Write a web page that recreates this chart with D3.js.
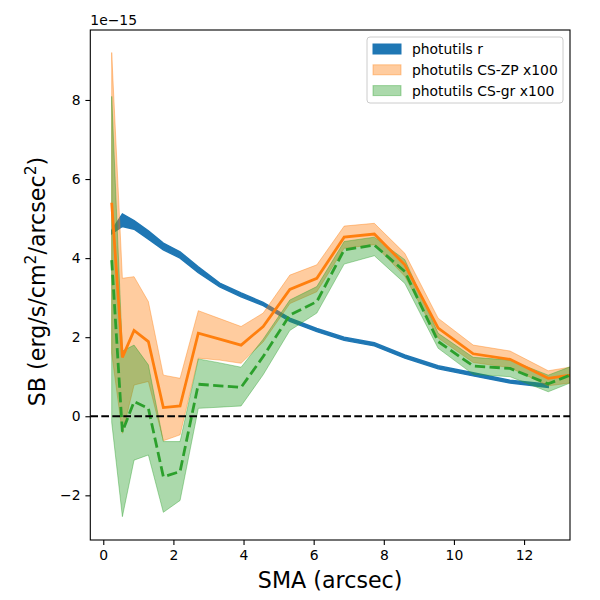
<!DOCTYPE html>
<html>
<head>
<meta charset="utf-8">
<script src="https://cdn.jsdelivr.net/npm/d3@7"></script>
<style>
  body { margin: 0; background: #fff; }
  svg { font-family: "DejaVu Sans", sans-serif; }
</style>
</head>
<body>
<svg id="chart"></svg>
<script>
// SMA 半径 (arcsec)
const sma = [0.24, 0.545, 0.878, 1.286, 1.713, 2.19, 2.71, 3.32, 3.93, 4.56, 5.32, 6.09, 6.87, 7.73, 8.60, 9.55, 10.55, 11.60, 12.69, 13.9];

// photutils r (单位 1e-15)
const blueLo = [4.62, 4.80, 4.73, 4.48, 4.21, 4.00, 3.63, 3.27, 3.02, 2.80, 2.40, 2.14, 1.92, 1.78, 1.47, 1.20, 1.02, 0.84, 0.73];
const blueUp = [4.70, 5.12, 4.95, 4.69, 4.38, 4.16, 3.78, 3.37, 3.12, 2.88, 2.48, 2.22, 2.00, 1.86, 1.55, 1.28, 1.10, 0.91, 0.81];

// photutils CS-ZP x100
const orangeMid = [5.40, 1.49, 2.17, 1.89, 0.22, 0.26, 2.10, 1.95, 1.80, 2.27, 3.21, 3.49, 4.53, 4.61, 3.83, 2.23, 1.58, 1.44, 0.96, 1.12];
const orangeUp = [9.20, 3.49, 3.53, 2.90, 1.04, 0.96, 2.67, 2.47, 2.27, 2.61, 3.57, 3.83, 4.81, 4.88, 4.12, 2.48, 1.80, 1.65, 1.15, 1.33];
const orangeLo = [1.60, -0.43, 0.79, 0.88, -0.62, -0.47, 1.47, 1.42, 1.34, 1.88, 2.85, 3.15, 4.25, 4.34, 3.54, 1.98, 1.36, 1.23, 0.77, 0.91];

// photutils CS-gr x100
const greenMid = [3.95, -0.39, 0.37, 0.20, -1.53, -1.40, 0.81, 0.77, 0.73, 1.51, 2.56, 2.90, 4.21, 4.33, 3.66, 1.89, 1.27, 1.21, 0.82, 1.25];
const greenUp = [8.09, 1.65, 1.80, 1.30, -0.64, -0.64, 1.45, 1.35, 1.24, 1.95, 2.94, 3.28, 4.42, 4.53, 3.96, 2.10, 1.49, 1.42, 1.04, 1.45];
const greenLo = [-0.15, -2.54, -1.11, -0.98, -2.43, -2.13, 0.20, 0.23, 0.26, 1.05, 2.17, 2.61, 3.85, 4.06, 3.36, 1.72, 1.06, 1.00, 0.62, 1.05];

// 刻度
const xTicks = [0, 2, 4, 6, 8, 10, 12];
const yTicks = [-2, 0, 2, 4, 6, 8];
const legendLabels = ["photutils r", "photutils CS-ZP x100", "photutils CS-gr x100"];

const width = 600, height = 600;
const margin = { top: 30, right: 30, bottom: 60, left: 90.3 };

const x = d3.scaleLinear().domain([-0.37, 13.31]).range([margin.left, width - margin.right]);
const y = d3.scaleLinear().domain([-3.13, 9.77]).range([height - margin.bottom, margin.top]);

const svg = d3.select("#chart")
    .attr("width", width)
    .attr("height", height)
    .attr("viewBox", [0, 0, width, height]);

svg.append("defs").append("clipPath").attr("id", "clip")
    .append("rect")
    .attr("x", margin.left).attr("y", margin.top)
    .attr("width", width - margin.right - margin.left)
    .attr("height", height - margin.bottom - margin.top);

const plot = svg.append("g").attr("clip-path", "url(#clip)");

const band = (lo, up) => d3.area()
    .x((d, i) => x(sma[i]))
    .y0((d, i) => y(lo[i]))
    .y1((d, i) => y(up[i]))(lo);
const line = vals => d3.line().x((d, i) => x(sma[i])).y(d => y(d))(vals);

// 填充带
plot.append("path")
    .attr("d", band(blueLo, blueUp))
    .attr("fill", "#1f77b4").attr("stroke", "#1f77b4").attr("stroke-width", 1.4);

plot.append("path")
    .attr("d", band(orangeLo, orangeUp))
    .attr("fill", "#ff7f0e").attr("fill-opacity", 0.4)
    .attr("stroke", "#ff7f0e").attr("stroke-opacity", 0.4).attr("stroke-width", 1);

plot.append("path")
    .attr("d", band(greenLo, greenUp))
    .attr("fill", "#2ca02c").attr("fill-opacity", 0.4)
    .attr("stroke", "#2ca02c").attr("stroke-opacity", 0.4).attr("stroke-width", 1);

// 曲线
plot.append("path")
    .attr("d", line(orangeMid))
    .attr("fill", "none").attr("stroke", "#ff7f0e").attr("stroke-width", 2.78);

plot.append("path")
    .attr("d", line(greenMid))
    .attr("fill", "none").attr("stroke", "#2ca02c").attr("stroke-width", 2.78)
    .attr("stroke-dasharray", "10.3,4.4");

// 零线
plot.append("line")
    .attr("x1", margin.left).attr("x2", width - margin.right)
    .attr("y1", y(0)).attr("y2", y(0))
    .attr("stroke", "#000").attr("stroke-width", 2.08)
    .attr("stroke-dasharray", "7.7,3.3");

// 坐标轴
const xAxis = svg.append("g")
    .attr("transform", `translate(0,${height - margin.bottom})`)
    .call(d3.axisBottom(x).tickValues(xTicks).tickSize(4.9).tickPadding(4.9).tickSizeOuter(0));
const yAxis = svg.append("g")
    .attr("transform", `translate(${margin.left},0)`)
    .call(d3.axisLeft(y).tickValues(yTicks).tickSize(4.9).tickPadding(4.9).tickSizeOuter(0)
        .tickFormat(d => d < 0 ? "\u2212" + Math.abs(d) : d));
[xAxis, yAxis].forEach(g => {
    g.select(".domain").remove();
    g.selectAll("text").attr("font-size", 13.9).attr("fill", "#000").attr("font-family", "DejaVu Sans");
    g.selectAll("line").attr("stroke", "#000").attr("stroke-width", 1.1);
});

svg.append("rect")
    .attr("x", margin.left).attr("y", margin.top)
    .attr("width", width - margin.right - margin.left)
    .attr("height", height - margin.bottom - margin.top)
    .attr("fill", "none").attr("stroke", "#000").attr("stroke-width", 1.1);

// 偏移文字
svg.append("text")
    .attr("x", margin.left).attr("y", 25)
    .attr("font-size", 13.9)
    .text("1e\u221215");

// 轴标签
svg.append("text")
    .attr("x", (margin.left + width - margin.right) / 2).attr("y", 588)
    .attr("text-anchor", "middle").attr("font-size", 22.2)
    .text("SMA (arcsec)");

const yl = svg.append("text")
    .attr("transform", "translate(45,281.5) rotate(-90)")
    .attr("text-anchor", "middle").attr("font-size", 22.2);
yl.append("tspan").text("SB (erg/s/cm");
yl.append("tspan").attr("font-size", 15.5).attr("dy", -9).text("2");
yl.append("tspan").attr("dy", 9).text("/arcsec");
yl.append("tspan").attr("font-size", 15.5).attr("dy", -9).text("2");
yl.append("tspan").attr("dy", 9).text(")");

// 图例
const legend = svg.append("g");
legend.append("rect")
    .attr("x", 367).attr("y", 37).attr("width", 196).attr("height", 66)
    .attr("rx", 3).attr("fill", "#fff").attr("fill-opacity", 0.8)
    .attr("stroke", "#ccc").attr("stroke-width", 1);
const legendColors = [["#1f77b4", 1], ["#ff7f0e", 0.4], ["#2ca02c", 0.4]];
legendLabels.forEach((lab, i) => {
    const cy = 49 + i * 20.8;
    legend.append("rect")
        .attr("x", 373).attr("y", cy - 5).attr("width", 28).attr("height", 10)
        .attr("fill", legendColors[i][0]).attr("fill-opacity", legendColors[i][1])
        .attr("stroke", legendColors[i][0]).attr("stroke-opacity", legendColors[i][1]);
    legend.append("text")
        .attr("x", 412).attr("y", cy + 5).attr("font-size", 13.9)
        .text(lab);
});
</script>
</body>
</html>
